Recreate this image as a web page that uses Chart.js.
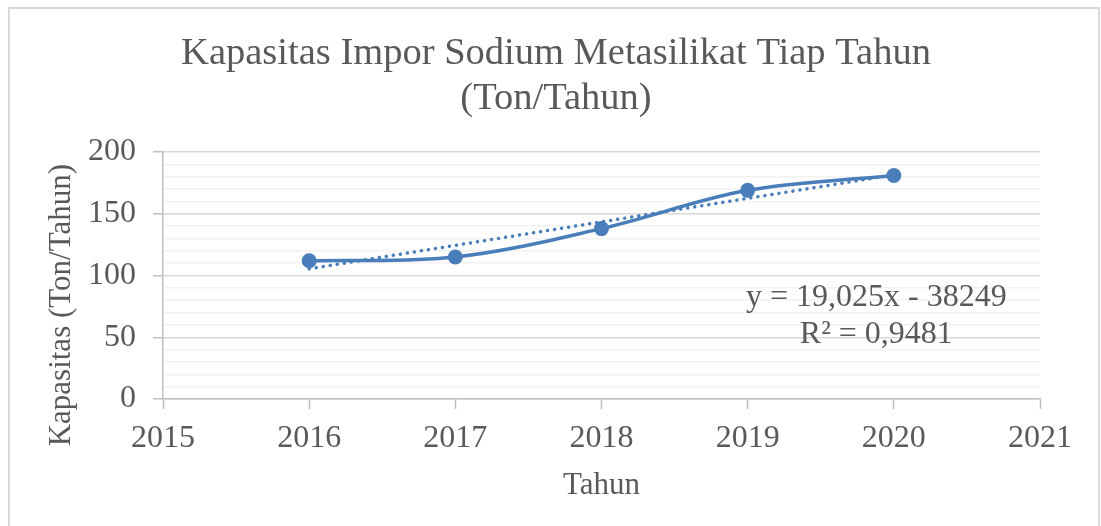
<!DOCTYPE html>
<html>
<head>
<meta charset="utf-8">
<title>Kapasitas Impor Sodium Metasilikat Tiap Tahun</title>
<script src="https://cdn.jsdelivr.net/npm/chart.js@4.4.1/dist/chart.umd.min.js"></script>
<style>
  html, body { margin: 0; padding: 0; background: #fff; }
  #wrap { position: relative; width: 1101px; height: 526px; overflow: hidden; }
  #frame { position: absolute; left: 8px; top: 7px; width: 1092px; height: 540px; border: 2px solid #d9d9d9; box-sizing: border-box; }
  #chart { position: absolute; left: 0; top: 0; }
</style>
</head>
<body>
<div id="wrap">
  <div id="frame"></div>
  <canvas id="chart" width="1101" height="526"></canvas>
</div>
<script>
// Values
const years = [2016, 2017, 2018, 2019, 2020];
const capacity = [112, 115, 138, 169, 181];

// Linear trendline end points (y = 19,025x - 38249)
const trendYears = [2016, 2020];
const trendValues = [105.4, 181.5];

const titleLines = ['Kapasitas Impor Sodium Metasilikat Tiap Tahun', '(Ton/Tahun)'];
const yTitle = 'Kapasitas (Ton/Tahun)';
const xTitle = 'Tahun';
const equationLines = ['y = 19,025x - 38249', 'R² = 0,9481'];

const serif = "'Liberation Serif', 'Times New Roman', serif";
const textColor = '#595959';
const seriesColor = '#4a7ebb';
const axisColor = '#bfbfbf';

// Trendline equation label, placed through the chart scales
const equationLabel = {
  id: 'equationLabel',
  afterDatasetsDraw(chart) {
    const { ctx, scales } = chart;
    const cx = scales.x.getPixelForValue(2019.88);
    const rows = [82, 52];
    ctx.save();
    ctx.font = '32px ' + serif;
    ctx.fillStyle = textColor;
    ctx.textAlign = 'center';
    ctx.textBaseline = 'middle';
    equationLines.forEach((line, i) => {
      ctx.fillText(line, cx, scales.y.getPixelForValue(rows[i]));
    });
    ctx.restore();
  }
};

// Excel puts the vertical axis title a bit lower than the plot centre
const yAxisTitle = {
  id: 'yAxisTitle',
  afterDraw(chart) {
    const { ctx, scales } = chart;
    ctx.save();
    ctx.translate(62, scales.y.getPixelForValue(76));
    ctx.rotate(-Math.PI / 2);
    ctx.font = '31px ' + serif;
    ctx.fillStyle = textColor;
    ctx.textAlign = 'center';
    ctx.textBaseline = 'middle';
    ctx.fillText(yTitle, 0, 0);
    ctx.restore();
  }
};

new Chart(document.getElementById('chart'), {
  type: 'line',
  data: {
    datasets: [
      {
        label: 'Kapasitas',
        data: years.map((x, i) => ({ x: x, y: capacity[i] })),
        borderColor: seriesColor,
        backgroundColor: seriesColor,
        borderWidth: 3.5,
        pointRadius: 7.5,
        pointBorderWidth: 0,
        tension: 0.35
      },
      {
        label: 'Linear (Kapasitas)',
        data: trendYears.map((x, i) => ({ x: x, y: trendValues[i] })),
        borderColor: seriesColor,
        borderWidth: 3.5,
        borderDash: [0.1, 7],
        borderCapStyle: 'round',
        pointRadius: 0,
        tension: 0
      }
    ]
  },
  options: {
    responsive: false,
    animation: false,
    layout: { padding: { left: 11, right: 0, top: 0, bottom: 0 } },
    plugins: {
      legend: { display: false },
      tooltip: { enabled: false },
      title: {
        display: true,
        text: titleLines,
        color: textColor,
        font: { family: serif, size: 38.5, weight: 'normal', lineHeight: 1.15 },
        padding: { top: 32, bottom: 31.5 }
      }
    },
    scales: {
      x: {
        type: 'linear',
        min: 2015,
        max: 2021,
        ticks: {
          stepSize: 1,
          autoSkip: false,
          color: textColor,
          font: { family: serif, size: 32 },
          padding: 10,
          callback: v => String(v)
        },
        grid: { drawOnChartArea: false, tickLength: 10, tickColor: axisColor, tickWidth: 1.5 },
        border: { color: axisColor, width: 1.5 },
        title: {
          display: true,
          text: xTitle,
          color: textColor,
          font: { family: serif, size: 31 },
          padding: { top: 0, bottom: 22 }
        },
        afterFit: s => { s.height = 127; }
      },
      y: {
        min: 0,
        max: 200,
        ticks: {
          count: 21,
          autoSkip: false,
          color: textColor,
          font: { family: serif, size: 32 },
          padding: 17,
          callback: v => (Math.round(v) % 50 === 0 ? String(Math.round(v)) : '')
        },
        grid: {
          color: c => (c.tick && Math.round(c.tick.value) % 50 === 0 ? '#d9d9d9' : '#f2f2f2'),
          lineWidth: 1.5,
          tickLength: 10,
          tickColor: c => (c.tick && Math.round(c.tick.value) % 50 === 0 ? axisColor : 'rgba(0,0,0,0)')
        },
        border: { color: axisColor, width: 1.5 },
        afterFit: s => { s.width = 152; }
      },
      yr: {
        position: 'right',
        display: true,
        ticks: { display: false },
        grid: { display: false, drawTicks: false },
        border: { display: false },
        afterFit: s => { s.width = 61; }
      }
    }
  },
  plugins: [equationLabel, yAxisTitle]
});
</script>
</body>
</html>
